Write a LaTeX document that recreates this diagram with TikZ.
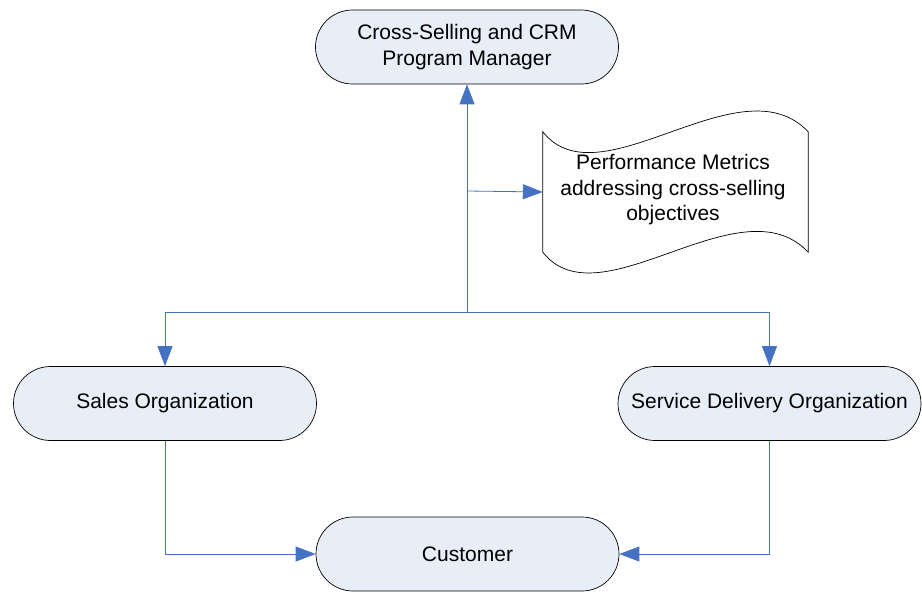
\documentclass[tikz,border=0pt]{standalone}
\usepackage{fontspec}
\setmainfont{Liberation Sans}
\usetikzlibrary{arrows.meta}
\definecolor{linkblue}{RGB}{70,114,196}
\definecolor{boxfill}{RGB}{232,238,248}
\begin{document}
\begin{tikzpicture}[x=1pt,y=-1pt,
  term/.style={draw=black,line width=0.7pt,fill=boxfill,rounded corners=37pt,
    minimum width=303pt,minimum height=74pt,align=center,inner sep=0pt,
    font=\fontsize{21}{25.5}\selectfont},
  link/.style={draw=linkblue,line width=0.8pt,-{Triangle[width=15pt,length=20pt]}},
  docbox/.style={draw=none,minimum width=265pt,minimum height=120pt,align=center,inner sep=0pt,
    font=\fontsize{21}{25.5}\selectfont}]
\useasboundingbox (0,0) rectangle (922,592);
\node[term] (top) at (467,47) {Cross-Selling and CRM\\Program Manager};
\node[term] (sales) at (165,403.5) {Sales Organization};
\node[term] (service) at (769.5,403.5) {Service Delivery Organization};
\node[term] (cust) at (467.5,554) {Customer};
\node[docbox] (doc) at (675.5,192) {};
\draw[line width=0.7pt,fill=white] (doc.north west) .. controls ++(57,72) and ++(-68,-72) .. (doc.north east)
  -- (doc.south east) .. controls ++(-68,-72) and ++(57,72) .. (doc.south west) -- cycle;
\node[docbox] (doctext) at (673,190) {Performance Metrics\\addressing cross-selling\\objectives};
\coordinate (j) at (467,312);
\coordinate (b) at (467,191);
\draw[link] (j) -- (top.south);
\draw[link] (b) -- (doc.west);
\draw[link] (j) -| (sales.north);
\draw[link] (j) -| (service.north);
\draw[link] (sales.south) |- (cust.west);
\draw[link] (service.south) |- (cust.east);
\end{tikzpicture}
\end{document}
